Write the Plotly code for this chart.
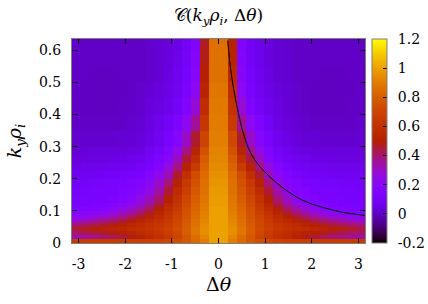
"""Correlation map C(k_y rho_i, delta theta) with the decorrelation curve on top."""

import math

import numpy as np
import plotly.graph_objects as go


# ── Data ──────────────────────────────────────────────────────────────────────
# cell edges: 32 columns in delta theta over [-pi, pi], rows in k_y rho_i
theta_edges = np.linspace(-np.pi, np.pi, 33)
ky_edges = [0.0, 0.0125, 0.025, 0.0375, 0.05, 0.0625, 0.075, 0.0875, 0.1,
            0.1125, 0.125, 0.15, 0.175, 0.2, 0.225, 0.25, 0.275, 0.3, 0.35,
            0.4, 0.45, 0.5, 0.55, 0.6, 0.635]

# left half: columns from delta theta = -pi up to 0 (one row per ky cell)
corr_left = [
    [0.66, 0.66, 0.66, 0.66, 0.66, 0.66, 0.67, 0.67, 0.68, 0.69, 0.71, 0.74, 0.78, 0.84, 0.90, 1.00],
    [0.34, 0.36, 0.38, 0.40, 0.42, 0.45, 0.48, 0.52, 0.56, 0.60, 0.64, 0.70, 0.78, 0.85, 0.93, 1.00],
    [0.40, 0.42, 0.44, 0.46, 0.48, 0.51, 0.54, 0.57, 0.60, 0.63, 0.67, 0.72, 0.80, 0.88, 0.95, 1.00],
    [0.46, 0.48, 0.50, 0.52, 0.54, 0.56, 0.58, 0.60, 0.62, 0.65, 0.69, 0.74, 0.80, 0.88, 0.95, 1.00],
    [0.40, 0.42, 0.44, 0.46, 0.49, 0.52, 0.55, 0.58, 0.61, 0.64, 0.67, 0.72, 0.79, 0.87, 0.94, 1.00],
    [0.30, 0.32, 0.35, 0.38, 0.41, 0.45, 0.49, 0.53, 0.57, 0.61, 0.65, 0.71, 0.78, 0.86, 0.93, 1.00],
    [0.22, 0.24, 0.26, 0.29, 0.33, 0.37, 0.42, 0.47, 0.52, 0.57, 0.63, 0.70, 0.77, 0.85, 0.92, 1.00],
    [0.17, 0.19, 0.21, 0.23, 0.26, 0.30, 0.35, 0.41, 0.47, 0.54, 0.61, 0.68, 0.76, 0.84, 0.91, 1.00],
    [0.14, 0.15, 0.16, 0.18, 0.21, 0.25, 0.29, 0.35, 0.42, 0.50, 0.58, 0.66, 0.75, 0.83, 0.90, 1.00],
    [0.12, 0.13, 0.14, 0.15, 0.17, 0.20, 0.24, 0.30, 0.37, 0.46, 0.55, 0.64, 0.73, 0.82, 0.89, 0.99],
    [0.11, 0.12, 0.12, 0.13, 0.14, 0.16, 0.20, 0.25, 0.31, 0.40, 0.50, 0.61, 0.71, 0.80, 0.88, 0.99],
    [0.10, 0.11, 0.12, 0.12, 0.13, 0.14, 0.16, 0.20, 0.25, 0.34, 0.45, 0.57, 0.68, 0.78, 0.87, 0.98],
    [0.09, 0.10, 0.11, 0.11, 0.12, 0.13, 0.14, 0.16, 0.21, 0.29, 0.39, 0.52, 0.65, 0.76, 0.86, 0.97],
    [0.07, 0.08, 0.08, 0.09, 0.09, 0.10, 0.11, 0.13, 0.17, 0.23, 0.32, 0.46, 0.60, 0.73, 0.85, 0.96],
    [0.05, 0.06, 0.06, 0.06, 0.07, 0.07, 0.08, 0.10, 0.13, 0.18, 0.26, 0.38, 0.52, 0.66, 0.82, 0.94],
    [0.03, 0.04, 0.04, 0.04, 0.05, 0.05, 0.06, 0.07, 0.10, 0.14, 0.20, 0.31, 0.45, 0.60, 0.79, 0.93],
    [0.02, 0.03, 0.03, 0.03, 0.03, 0.03, 0.04, 0.05, 0.08, 0.11, 0.16, 0.25, 0.38, 0.54, 0.76, 0.92],
    [0.01, 0.01, 0.01, 0.01, 0.01, 0.02, 0.02, 0.03, 0.05, 0.08, 0.12, 0.19, 0.30, 0.46, 0.70, 0.91],
    [0.00, 0.00, 0.00, 0.00, 0.00, 0.00, 0.01, 0.02, 0.04, 0.06, 0.09, 0.14, 0.22, 0.36, 0.64, 0.90],
    [0.00, -0.01, -0.01, -0.01, -0.01, 0.00, 0.00, 0.01, 0.03, 0.04, 0.06, 0.10, 0.16, 0.28, 0.58, 0.89],
    [0.00, -0.01, -0.01, -0.01, -0.01, -0.01, 0.00, 0.01, 0.02, 0.03, 0.05, 0.08, 0.13, 0.22, 0.53, 0.88],
    [0.00, 0.00, -0.01, -0.01, -0.01, 0.00, 0.00, 0.00, 0.01, 0.02, 0.04, 0.07, 0.11, 0.19, 0.50, 0.87],
    [0.00, 0.00, 0.00, 0.00, 0.00, 0.00, 0.00, 0.00, 0.01, 0.02, 0.03, 0.06, 0.10, 0.17, 0.48, 0.87],
    [0.00, 0.00, 0.00, 0.00, 0.00, 0.00, 0.00, 0.00, 0.01, 0.02, 0.03, 0.05, 0.09, 0.16, 0.47, 0.86],
]

# right half: columns from delta theta = 0 out to +pi
corr_right = [
    [1.00, 0.90, 0.84, 0.78, 0.74, 0.71, 0.69, 0.68, 0.67, 0.67, 0.66, 0.66, 0.66, 0.66, 0.66, 0.66],
    [1.00, 0.93, 0.85, 0.78, 0.70, 0.64, 0.60, 0.56, 0.52, 0.48, 0.45, 0.42, 0.40, 0.38, 0.36, 0.35],
    [1.00, 0.95, 0.88, 0.80, 0.72, 0.66, 0.62, 0.58, 0.55, 0.52, 0.50, 0.47, 0.45, 0.43, 0.41, 0.40],
    [1.00, 0.95, 0.88, 0.80, 0.73, 0.68, 0.64, 0.61, 0.59, 0.57, 0.55, 0.53, 0.51, 0.49, 0.47, 0.45],
    [1.00, 0.94, 0.87, 0.79, 0.72, 0.67, 0.63, 0.60, 0.57, 0.54, 0.51, 0.48, 0.45, 0.43, 0.41, 0.39],
    [1.00, 0.93, 0.86, 0.78, 0.71, 0.65, 0.60, 0.56, 0.52, 0.48, 0.44, 0.40, 0.37, 0.34, 0.31, 0.29],
    [1.00, 0.92, 0.85, 0.77, 0.70, 0.63, 0.57, 0.51, 0.46, 0.41, 0.36, 0.32, 0.28, 0.25, 0.23, 0.21],
    [1.00, 0.91, 0.84, 0.76, 0.68, 0.61, 0.53, 0.46, 0.40, 0.34, 0.29, 0.25, 0.22, 0.20, 0.18, 0.17],
    [1.00, 0.90, 0.83, 0.75, 0.66, 0.58, 0.49, 0.41, 0.34, 0.28, 0.23, 0.19, 0.17, 0.15, 0.14, 0.13],
    [0.99, 0.89, 0.82, 0.73, 0.64, 0.55, 0.45, 0.36, 0.29, 0.23, 0.19, 0.16, 0.14, 0.13, 0.12, 0.12],
    [0.99, 0.88, 0.80, 0.71, 0.61, 0.50, 0.39, 0.30, 0.23, 0.18, 0.15, 0.13, 0.12, 0.12, 0.11, 0.11],
    [0.98, 0.87, 0.78, 0.68, 0.57, 0.45, 0.33, 0.24, 0.18, 0.15, 0.13, 0.12, 0.12, 0.11, 0.11, 0.10],
    [0.97, 0.86, 0.76, 0.65, 0.52, 0.39, 0.27, 0.19, 0.15, 0.13, 0.12, 0.11, 0.11, 0.10, 0.10, 0.09],
    [0.96, 0.85, 0.73, 0.60, 0.46, 0.32, 0.21, 0.15, 0.12, 0.10, 0.09, 0.09, 0.08, 0.08, 0.08, 0.08],
    [0.94, 0.82, 0.66, 0.52, 0.38, 0.26, 0.17, 0.12, 0.09, 0.08, 0.07, 0.07, 0.06, 0.06, 0.06, 0.06],
    [0.93, 0.79, 0.60, 0.45, 0.31, 0.20, 0.13, 0.09, 0.07, 0.06, 0.05, 0.05, 0.04, 0.04, 0.04, 0.04],
    [0.92, 0.76, 0.54, 0.38, 0.25, 0.16, 0.10, 0.07, 0.05, 0.04, 0.03, 0.03, 0.03, 0.03, 0.03, 0.03],
    [0.91, 0.72, 0.46, 0.30, 0.19, 0.12, 0.07, 0.05, 0.03, 0.02, 0.02, 0.01, 0.01, 0.01, 0.01, 0.02],
    [0.90, 0.66, 0.36, 0.22, 0.14, 0.09, 0.05, 0.03, 0.02, 0.01, 0.00, 0.00, 0.00, 0.00, 0.00, 0.01],
    [0.89, 0.62, 0.28, 0.16, 0.10, 0.06, 0.04, 0.02, 0.01, 0.00, -0.01, -0.01, -0.01, -0.01, 0.00, 0.00],
    [0.88, 0.58, 0.22, 0.13, 0.08, 0.05, 0.03, 0.02, 0.01, 0.00, -0.01, -0.01, -0.01, -0.01, -0.01, 0.00],
    [0.87, 0.55, 0.19, 0.11, 0.07, 0.04, 0.02, 0.01, 0.00, 0.00, 0.00, -0.01, -0.01, -0.01, 0.00, 0.00],
    [0.87, 0.53, 0.17, 0.10, 0.06, 0.03, 0.02, 0.01, 0.00, 0.00, 0.00, 0.00, 0.00, 0.00, 0.00, 0.00],
    [0.86, 0.52, 0.16, 0.09, 0.06, 0.03, 0.02, 0.01, 0.00, 0.00, 0.00, 0.00, 0.00, 0.00, 0.00, 0.00],
]

# black curve
curve_theta = [0.197, 0.268, 0.39, 0.568, 0.74, 1.03, 1.457, 1.81, 2.207, 2.636, 3.135]
curve_ky = [0.63, 0.532, 0.429, 0.325, 0.267, 0.2155, 0.1637, 0.1326, 0.112, 0.0963, 0.086]

x_ticks = [-3, -2, -1, 0, 1, 2, 3]
y_ticks = [0, 0.1, 0.2, 0.3, 0.4, 0.5, 0.6]
cb_ticks = [-0.2, 0, 0.2, 0.4, 0.6, 0.8, 1.0, 1.2]
cb_ticktext = ["-0.2", "0", "0.2", "0.4", "0.6", "0.8", "1", "1.2"]

FONT = "DejaVu Serif"


def gnuplot_scale(n=64):
    """gnuplot default pm3d palette (rgbformulae 7,5,15)."""
    stops = []
    for i in range(n + 1):
        t = i / n
        r = math.sqrt(t)
        g = t ** 3
        b = max(0.0, math.sin(2 * math.pi * t))
        stops.append([t, f"rgb({round(255*r)},{round(255*g)},{round(255*b)})"])
    return stops


z = [l + r for l, r in zip(corr_left, corr_right)]

fig = go.Figure()
fig.add_trace(go.Heatmap(
    x=theta_edges, y=ky_edges, z=z,
    zmin=-0.2, zmax=1.2,
    colorscale=gnuplot_scale(),
    zsmooth=False,
    colorbar=dict(
        x=1.024, xanchor="left", y=0.5, yanchor="middle",
        len=1.0, thickness=15, xpad=0, ypad=0,
        outlinewidth=1, outlinecolor="#808080",
        tickvals=cb_ticks,
        ticktext=["\u2002" + t for t in cb_ticktext],
        ticks="inside", ticklen=4, tickcolor="black",
        tickfont=dict(family=FONT, size=14, color="black"),
    ),
))
fig.add_trace(go.Scatter(
    x=curve_theta, y=curve_ky, mode="lines",
    line=dict(color="black", width=1, shape="spline"),
    showlegend=False, hoverinfo="skip",
))

axis_common = dict(
    showline=True, linecolor="#808080", linewidth=1, mirror="allticks",
    ticks="inside", ticklen=5, tickcolor="black",
    showgrid=False, zeroline=False,
    tickfont=dict(family=FONT, size=14, color="black"),
)
fig.update_layout(
    width=428, height=304,
    margin=dict(l=72, r=63, t=39, b=61, autoexpand=False),
    plot_bgcolor="white", paper_bgcolor="white",
    showlegend=False,
    title=dict(
        text="𝒞(<i>k<sub>y</sub>ρ<sub>i</sub></i>, Δ<i>θ</i>)",
        x=0.5, xanchor="center", xref="paper", y=0.95, yanchor="middle",
        font=dict(family=FONT, size=17, color="black"),
    ),
    xaxis=dict(
        axis_common, range=[-np.pi, np.pi],
        tickvals=x_ticks, ticktext=[str(v) for v in x_ticks],
        ticklabelstandoff=8,
        title=dict(text="Δ<i>θ</i>", font=dict(family=FONT, size=19, color="black"), standoff=6),
    ),
    yaxis=dict(
        axis_common, range=[0, 0.635],
        tickvals=y_ticks, ticktext=["0", "0.1", "0.2", "0.3", "0.4", "0.5", "0.6"],
        ticklabelstandoff=7,
        title=dict(text="<i>k<sub>y</sub>ρ<sub>i</sub></i>", font=dict(family=FONT, size=19, color="black"), standoff=12),
    ),
)

# the page body keeps its default 8px margin otherwise
fig.write_html(
    "out.html",
    config={"displayModeBar": False},
    post_script="document.body.style.margin='0';",
)
